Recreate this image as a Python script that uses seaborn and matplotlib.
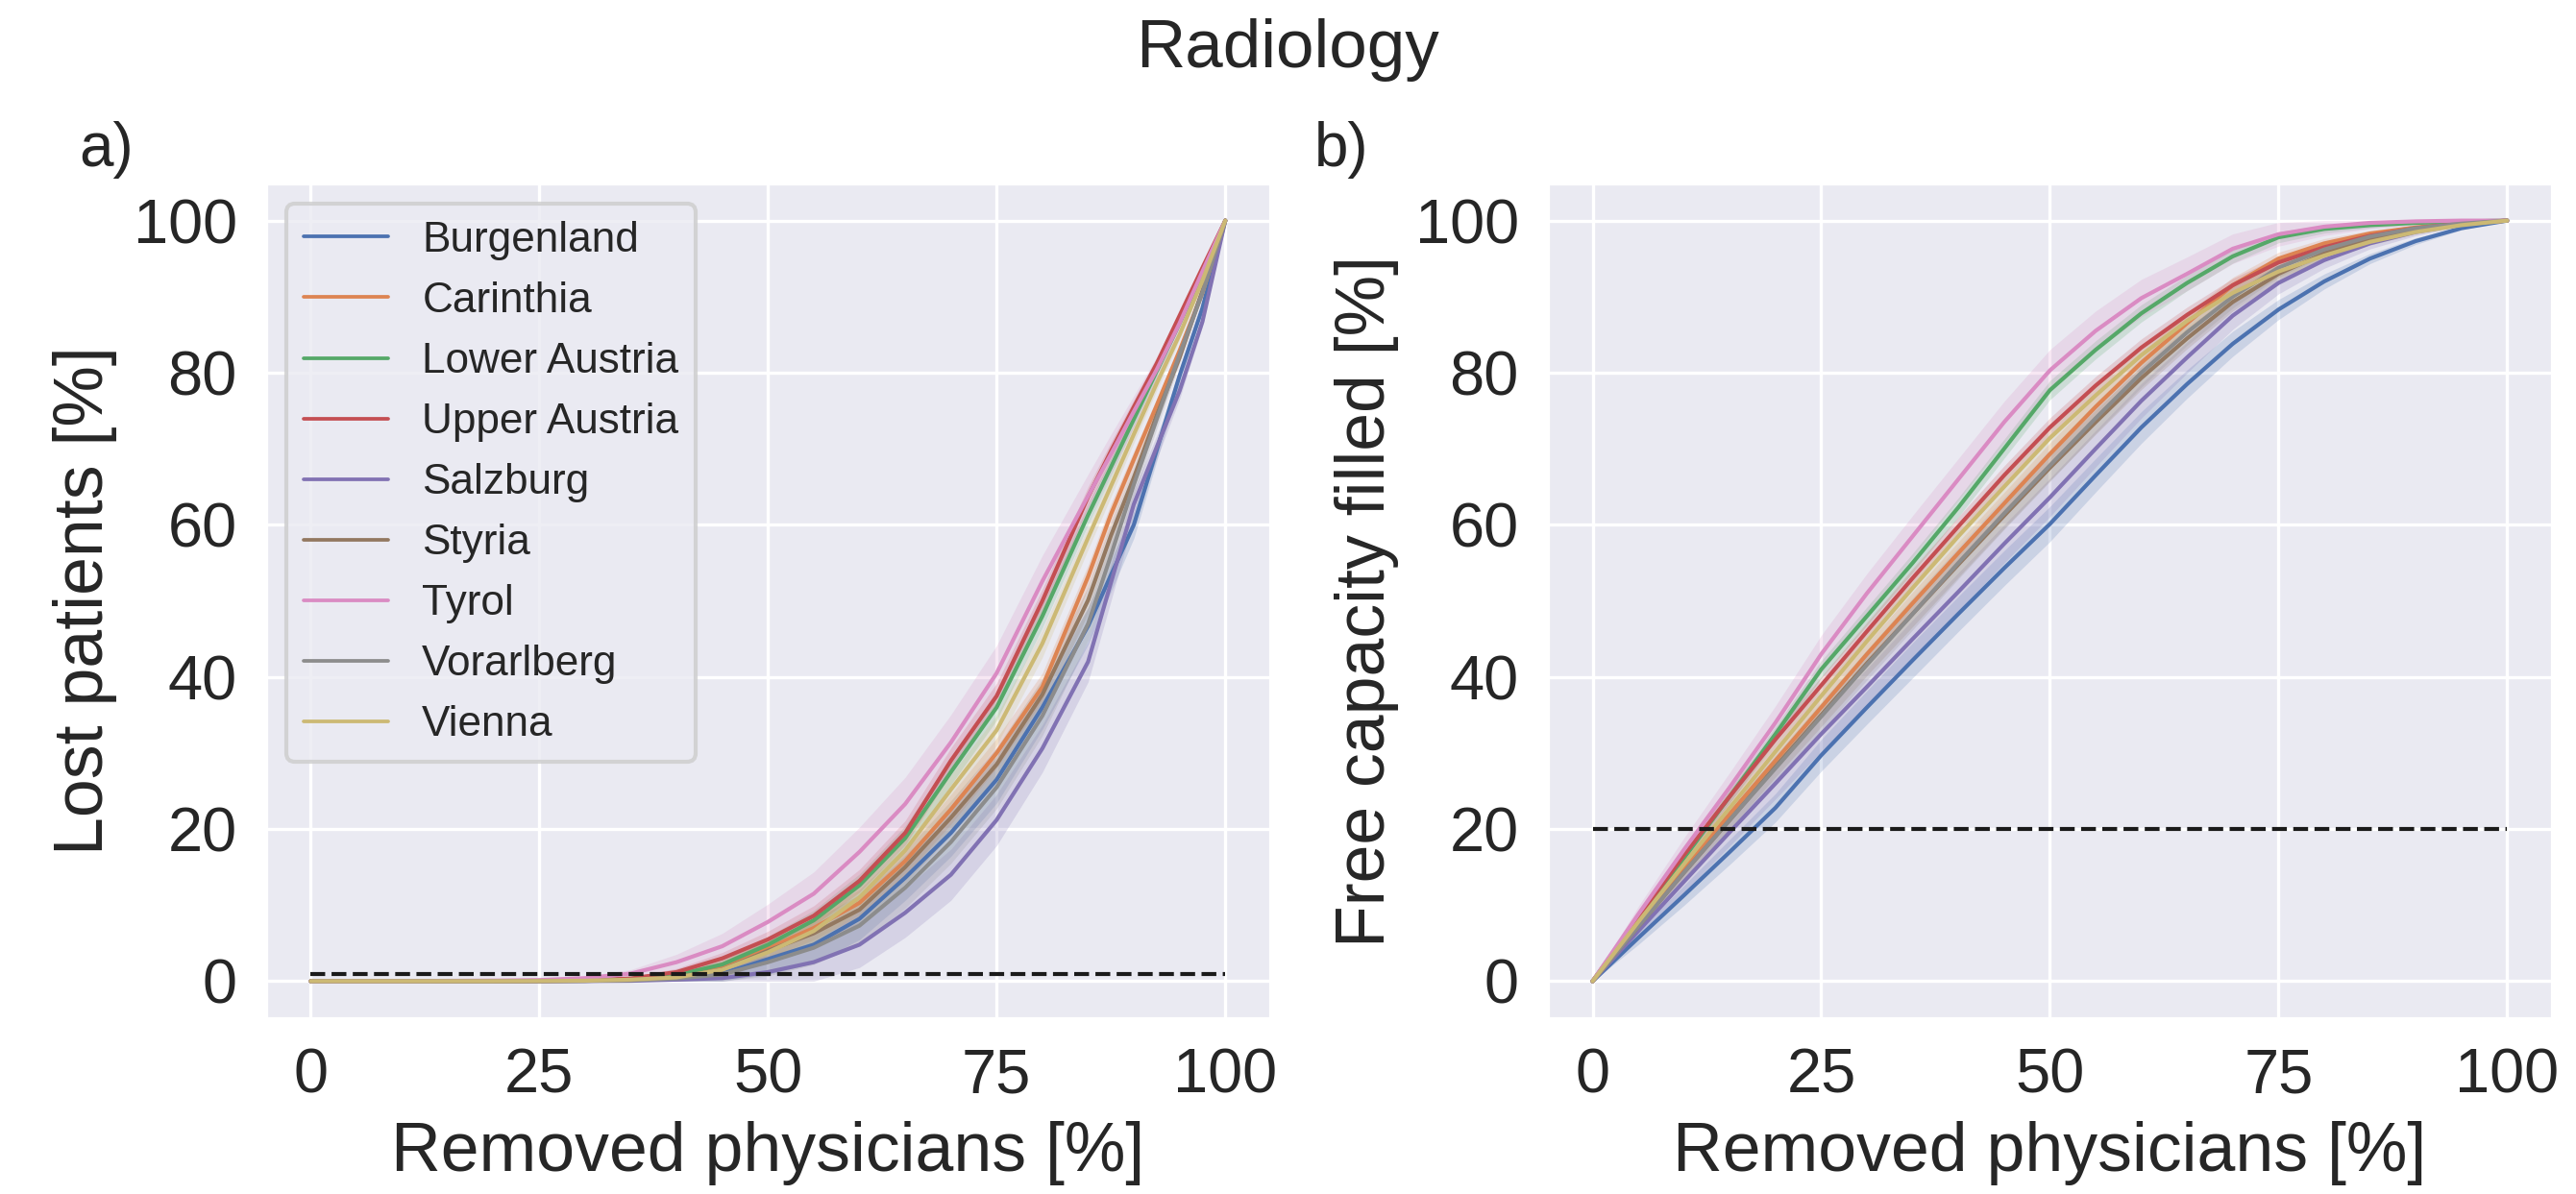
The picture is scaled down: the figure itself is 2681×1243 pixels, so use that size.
import numpy as np
import pandas as pd
import matplotlib
matplotlib.use("Agg")
import matplotlib.pyplot as plt
import seaborn as sns

# ---------------- data ----------------
regions = ["Burgenland", "Carinthia", "Lower Austria", "Upper Austria", "Salzburg",
           "Styria", "Tyrol", "Vorarlberg", "Vienna"]

x_left = [0, 10, 20, 25, 30, 35, 40, 45, 50, 55, 60, 65, 70, 75, 80, 85, 87.5, 90, 92.5, 95, 97.5, 100]
lost_burgenland = [0, 0, 0, 0.02, 0.05, 0.15, 0.4, 1.0, 2.9, 4.8, 8.2, 13.6, 19.5, 26.5, 36.0, 46.7, 53.4, 60.0, 69.8, 79.6, 88.5, 100]
lost_carinthia = [0, 0, 0, 0.03, 0.08, 0.2, 0.6, 1.8, 4.3, 7.0, 10.3, 15.8, 22.6, 30.0, 38.7, 53.2, 61.4, 68.6, 75.7, 82.9, 90.5, 100]
lost_lower_austria = [0, 0, 0.01, 0.05, 0.12, 0.3, 0.8, 2.2, 4.8, 8.0, 12.6, 18.8, 27.5, 36.0, 48.0, 61.3, 67.6, 73.9, 80.2, 86.5, 93.0, 100]
lost_upper_austria = [0, 0, 0.01, 0.04, 0.1, 0.35, 1.2, 3.0, 5.5, 8.6, 13.2, 19.5, 29.0, 37.5, 50.0, 63.7, 69.7, 75.5, 81.2, 87.5, 93.8, 100]
lost_salzburg = [0, 0, 0, 0, 0.02, 0.05, 0.2, 0.4, 1.2, 2.5, 4.8, 9.0, 14.0, 21.2, 30.6, 42.0, 52.4, 62.7, 70.2, 77.6, 86.7, 100]
lost_styria = [0, 0, 0, 0.02, 0.05, 0.15, 0.5, 1.5, 4.0, 6.3, 9.4, 15.0, 21.5, 28.5, 37.7, 50.1, 58.6, 66.2, 74.4, 82.0, 90.8, 100]
lost_tyrol = [0, 0.02, 0.08, 0.15, 0.4, 1.0, 2.5, 4.6, 7.8, 11.5, 17.0, 23.3, 31.4, 40.5, 52.6, 63.8, 69.3, 74.9, 80.4, 86.5, 93.3, 100]
lost_vorarlberg = [0, 0, 0, 0.02, 0.04, 0.12, 0.35, 0.9, 2.5, 4.4, 7.3, 12.3, 18.3, 25.5, 34.9, 47.0, 56.0, 65.3, 73.9, 82.4, 90.5, 100]
lost_vienna = [0, 0, 0, 0.02, 0.06, 0.2, 0.5, 1.5, 3.8, 6.6, 11.0, 17.2, 25.2, 33.0, 44.4, 58.3, 65.1, 71.9, 78.6, 85.0, 92.1, 100]

x_right = [0, 5, 10, 15, 20, 25, 30, 35, 40, 45, 50, 55, 60, 65, 70, 75, 80, 85, 90, 95, 100]
fill_burgenland = [0, 5.7, 11.3, 17.0, 22.8, 29.7, 36.0, 42.2, 48.3, 54.3, 60.1, 66.5, 72.8, 78.5, 83.8, 88.3, 92.0, 95.0, 97.3, 99.0, 100]
fill_carinthia = [0, 7.5, 14.8, 22.0, 29.0, 36.0, 43.0, 49.7, 56.3, 62.8, 69.3, 75.5, 81.3, 86.5, 91.5, 95.0, 97.0, 98.3, 99.1, 99.7, 100]
fill_lower_austria = [0, 8.2, 16.2, 24.3, 32.5, 41.0, 48.0, 55.0, 62.3, 70.0, 77.7, 83.0, 87.8, 91.8, 95.3, 97.8, 98.9, 99.4, 99.7, 99.9, 100]
fill_upper_austria = [0, 8.4, 16.6, 24.3, 31.8, 38.9, 46.0, 53.0, 59.8, 66.5, 72.8, 78.3, 83.3, 87.6, 91.5, 94.5, 96.5, 98.0, 99.0, 99.6, 100]
fill_salzburg = [0, 6.6, 13.1, 19.6, 26.0, 32.5, 38.7, 45.0, 51.2, 57.5, 63.6, 70.0, 76.3, 82.0, 87.5, 91.8, 94.8, 97.0, 98.5, 99.5, 100]
fill_styria = [0, 7.2, 14.3, 21.2, 28.2, 35.0, 41.8, 48.3, 54.8, 61.2, 67.5, 73.5, 79.3, 84.5, 89.3, 93.0, 95.7, 97.6, 98.8, 99.6, 100]
fill_tyrol = [0, 8.8, 17.3, 25.5, 34.0, 43.0, 51.0, 58.5, 66.0, 73.5, 80.3, 85.5, 89.8, 93.0, 96.3, 98.2, 99.2, 99.7, 99.9, 100, 100]
fill_vorarlberg = [0, 7.2, 14.3, 21.2, 28.0, 34.8, 41.6, 48.3, 55.0, 61.5, 67.8, 74.0, 80.0, 85.3, 90.0, 93.8, 96.2, 97.9, 99.0, 99.6, 100]
fill_vienna = [0, 7.8, 15.4, 22.8, 30.2, 37.5, 44.7, 51.7, 58.5, 65.0, 71.4, 77.0, 82.3, 86.8, 90.5, 93.3, 95.4, 97.2, 98.5, 99.4, 100]

# confidence band half-widths (percentage points) and per-region scaling
band_left = [0, 0, 0.05, 0.1, 0.2, 0.4, 0.8, 1.3, 1.8, 2.2, 2.5, 2.7, 2.8, 2.8, 2.6, 2.2, 2.0, 1.6, 1.3, 0.9, 0.5, 0]
band_right = [0, 0.8, 1.2, 1.5, 1.7, 1.9, 2.0, 2.1, 2.1, 2.1, 2.1, 2.0, 1.9, 1.7, 1.5, 1.2, 0.9, 0.6, 0.4, 0.2, 0]
band_scale = [1.1, 0.7, 0.6, 0.6, 1.2, 0.8, 1.3, 1.0, 0.7]

threshold_lost = 1
threshold_fill = 20

lost_series = [lost_burgenland, lost_carinthia, lost_lower_austria, lost_upper_austria, lost_salzburg,
               lost_styria, lost_tyrol, lost_vorarlberg, lost_vienna]
fill_series = [fill_burgenland, fill_carinthia, fill_lower_austria, fill_upper_austria, fill_salzburg,
               fill_styria, fill_tyrol, fill_vorarlberg, fill_vienna]

df_left = pd.concat([pd.DataFrame({"x": x_left, "y": s, "Region": r})
                     for r, s in zip(regions, lost_series)], ignore_index=True)
df_right = pd.concat([pd.DataFrame({"x": x_right, "y": s, "Region": r})
                      for r, s in zip(regions, fill_series)], ignore_index=True)

# ---------------- style ----------------
sns.set_theme(style="darkgrid")
plt.rcParams["font.family"] = ["Liberation Sans", "DejaVu Sans"]
plt.rcParams["grid.linewidth"] = 0.8

palette = sns.color_palette("deep", len(regions))
TICK = 15.6
LABEL = 17.2

fig = plt.figure(figsize=(2681 / 300, 1243 / 300), dpi=300)
axL = fig.add_axes([0.1029, 0.1464, 0.3905, 0.7007])
axR = fig.add_axes([0.6005, 0.1464, 0.3905, 0.7007])


def draw(ax, df, xs, series, band, thr, ylabel, legend):
    for i, s in enumerate(series):
        s = np.asarray(s, float)
        hw = np.asarray(band, float) * band_scale[i]
        ax.fill_between(xs, np.clip(s - hw, 0, 100), np.clip(s + hw, 0, 100),
                        color=palette[i], alpha=0.2, linewidth=0)
    sns.lineplot(data=df, x="x", y="y", hue="Region", hue_order=regions,
                 palette=palette, linewidth=1.0, ax=ax, legend=legend)
    ax.hlines(thr, xs[0], xs[-1], colors="k", linestyles="--", linewidth=1.0, zorder=5)
    ax.set_xticks([0, 25, 50, 75, 100])
    ax.set_yticks([0, 20, 40, 60, 80, 100])
    ax.set_xlim(-5, 105)
    ax.set_ylim(-5, 105)
    ax.tick_params(labelsize=TICK, length=0, pad=7)
    ax.set_xlabel("Removed physicians [%]", fontsize=LABEL)
    ax.set_ylabel(ylabel, fontsize=LABEL)


draw(axL, df_left, x_left, lost_series, band_left, threshold_lost, "Lost patients [%]", True)
draw(axR, df_right, x_right, fill_series, band_right, threshold_fill, "Free capacity filled [%]", False)

handles, labels = axL.get_legend_handles_labels()
leg = axL.legend(handles, labels, loc="upper left", fontsize=10.6, title=None)
for h in leg.get_lines():
    h.set_linewidth(0.9)

fig.suptitle("Radiology", fontsize=17, x=0.5, y=1 - 70 / 1243, va="baseline")
fig.text(82 / 2681, 1 - 173 / 1243, "a)", fontsize=15.3, va="baseline", ha="left")
fig.text(1368 / 2681, 1 - 173 / 1243, "b)", fontsize=15.3, va="baseline", ha="left")

fig.savefig("out.png", dpi=300)
